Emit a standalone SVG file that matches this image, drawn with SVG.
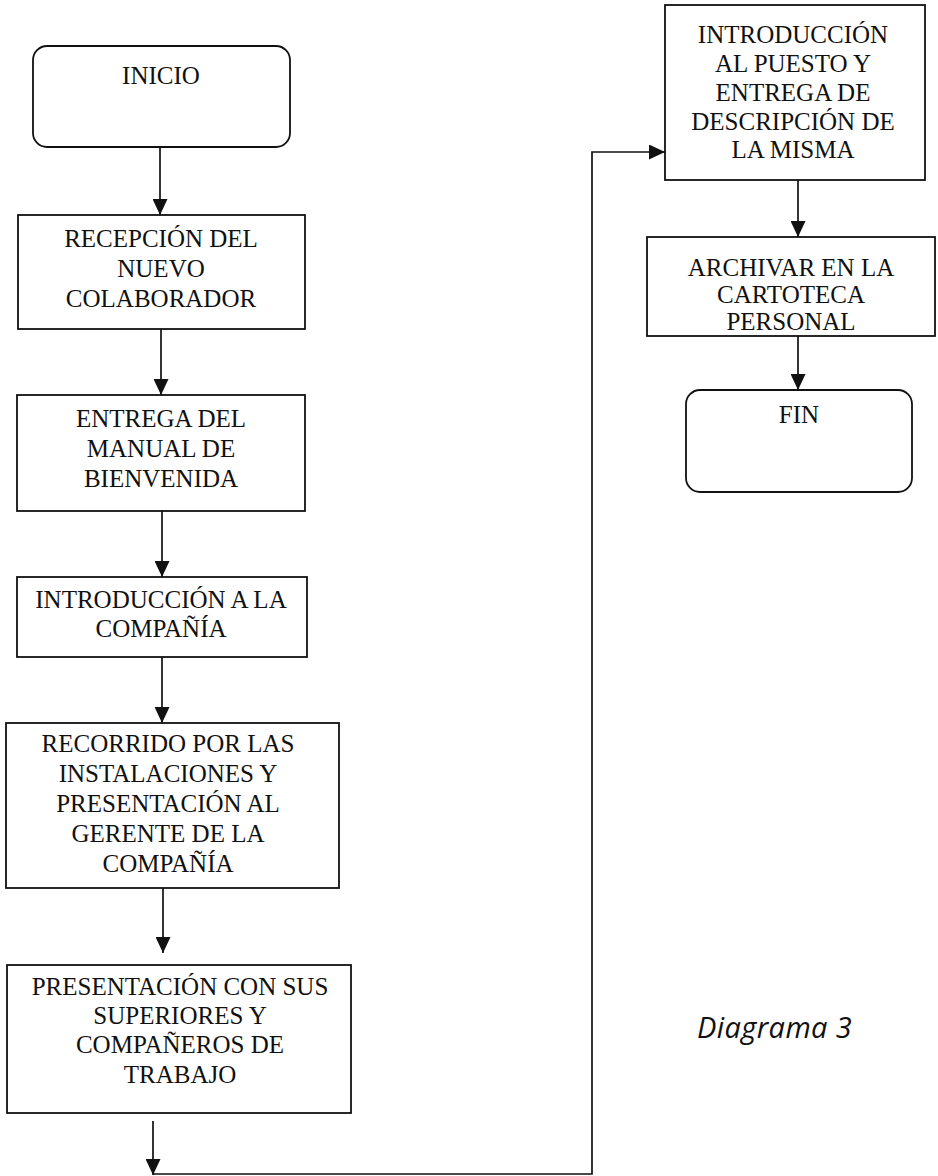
<svg xmlns="http://www.w3.org/2000/svg" width="938" height="1176" viewBox="0 0 938 1176">
  <style>
    .box { fill: #ffffff; stroke: #111111; stroke-width: 1.8; }
    .lbl { font-family: "Liberation Serif", "Times New Roman", serif; font-size: 25px; fill: #111111; text-anchor: middle; }
    .wire { fill: none; stroke: #111111; stroke-width: 1.7; }
    .caption { font-family: "Open Sans", "Noto Sans", sans-serif; font-style: italic; font-size: 29px; letter-spacing: 0.4px; fill: #111111; }
  </style>
  <defs>
    <marker id="arrow" markerUnits="userSpaceOnUse" markerWidth="17" markerHeight="15" refX="16" refY="7.5" orient="auto">
      <path d="M0,0 L16,7.5 L0,15 z" fill="#111111"/>
    </marker>
  </defs>

  <rect width="938" height="1176" fill="#ffffff"/>

  <!-- connectors -->
  <g id="connectors">
    <line class="wire" x1="160" y1="147" x2="160" y2="215" marker-end="url(#arrow)"/>
    <line class="wire" x1="161" y1="329" x2="161" y2="395" marker-end="url(#arrow)"/>
    <line class="wire" x1="162" y1="511" x2="162" y2="577" marker-end="url(#arrow)"/>
    <line class="wire" x1="162" y1="657" x2="162" y2="723" marker-end="url(#arrow)"/>
    <line class="wire" x1="163" y1="888" x2="163" y2="953" marker-end="url(#arrow)"/>
    <line class="wire" x1="153" y1="1121" x2="153" y2="1175" marker-end="url(#arrow)"/>
    <polyline class="wire" points="153,1174 592,1174 592,152 665,152" marker-end="url(#arrow)"/>
    <line class="wire" x1="798" y1="180" x2="798" y2="237" marker-end="url(#arrow)"/>
    <line class="wire" x1="798" y1="336" x2="798" y2="390" marker-end="url(#arrow)"/>
  </g>

  <!-- left column -->
  <g id="inicio">
    <rect class="box" x="33" y="46" width="257" height="101" rx="14" ry="14"/>
    <text class="lbl" x="161" y="84">INICIO</text>
  </g>

  <g id="recepcion">
    <rect class="box" x="18" y="215" width="287" height="114"/>
    <text class="lbl" x="161" y="247">RECEPCIÓN DEL</text>
    <text class="lbl" x="161" y="277">NUEVO</text>
    <text class="lbl" x="161" y="307">COLABORADOR</text>
  </g>

  <g id="entrega-manual">
    <rect class="box" x="17" y="395" width="288" height="116"/>
    <text class="lbl" x="161" y="427">ENTREGA DEL</text>
    <text class="lbl" x="161" y="457">MANUAL DE</text>
    <text class="lbl" x="161" y="487">BIENVENIDA</text>
  </g>

  <g id="introduccion-compania">
    <rect class="box" x="17" y="577" width="290" height="80"/>
    <text class="lbl" x="161" y="608">INTRODUCCIÓN A LA</text>
    <text class="lbl" x="161" y="637">COMPAÑÍA</text>
  </g>

  <g id="recorrido">
    <rect class="box" x="6" y="723" width="333" height="165"/>
    <text class="lbl" x="168" y="752">RECORRIDO POR LAS</text>
    <text class="lbl" x="168" y="782">INSTALACIONES Y</text>
    <text class="lbl" x="168" y="812">PRESENTACIÓN AL</text>
    <text class="lbl" x="168" y="842">GERENTE DE LA</text>
    <text class="lbl" x="168" y="872">COMPAÑÍA</text>
  </g>

  <g id="presentacion">
    <rect class="box" x="7" y="965" width="344" height="148"/>
    <text class="lbl" x="180" y="995">PRESENTACIÓN CON SUS</text>
    <text class="lbl" x="180" y="1024">SUPERIORES Y</text>
    <text class="lbl" x="180" y="1053">COMPAÑEROS DE</text>
    <text class="lbl" x="180" y="1083">TRABAJO</text>
  </g>

  <!-- right column -->
  <g id="introduccion-puesto">
    <rect class="box" x="665" y="5" width="260" height="175"/>
    <text class="lbl" x="793" y="43">INTRODUCCIÓN</text>
    <text class="lbl" x="793" y="72">AL PUESTO Y</text>
    <text class="lbl" x="793" y="101">ENTREGA DE</text>
    <text class="lbl" x="793" y="130">DESCRIPCIÓN DE</text>
    <text class="lbl" x="793" y="158">LA MISMA</text>
  </g>

  <g id="archivar">
    <rect class="box" x="647" y="237" width="288" height="99"/>
    <text class="lbl" x="791" y="276">ARCHIVAR EN LA</text>
    <text class="lbl" x="791" y="303">CARTOTECA</text>
    <text class="lbl" x="791" y="330">PERSONAL</text>
  </g>

  <g id="fin">
    <rect class="box" x="686" y="390" width="226" height="102" rx="14" ry="14"/>
    <text class="lbl" x="799" y="423">FIN</text>
  </g>

  <text class="caption" x="697" y="1038">Diagrama 3</text>
</svg>
